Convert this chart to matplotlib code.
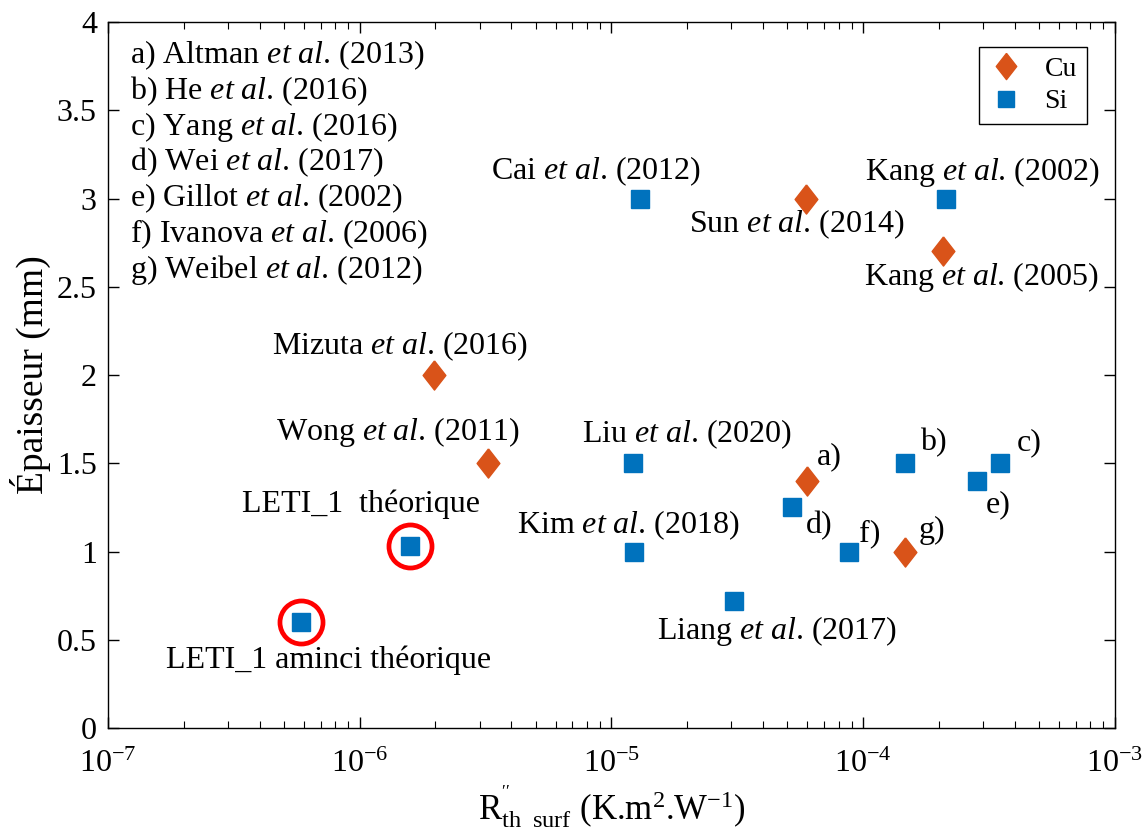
import matplotlib
matplotlib.use("Agg")
import matplotlib.pyplot as plt
from matplotlib.ticker import LogLocator, NullFormatter

# Cu samples (diamonds)
cu_labels = [r"Mizuta $\mathit{et\ al}$. (2016)", r"Wong $\mathit{et\ al}$. (2011)",
             r"Sun $\mathit{et\ al}$. (2014)", r"Kang $\mathit{et\ al}$. (2005)", "a)", "g)"]
cu_r = [1.97e-6, 3.23e-6, 5.93e-5, 2.07e-4, 6.0e-5, 1.47e-4]
cu_e = [2.0, 1.5, 3.0, 2.7, 1.4, 1.0]

# Si samples (squares)
si_labels = [r"Cai $\mathit{et\ al}$. (2012)", r"Kang $\mathit{et\ al}$. (2002)",
             r"Liu $\mathit{et\ al}$. (2020)", r"Kim $\mathit{et\ al}$. (2018)",
             r"Liang $\mathit{et\ al}$. (2017)", "d)", "f)", "b)", "e)", "c)",
             "LETI_1  théorique", "LETI_1 aminci théorique"]
si_r = [1.30e-5, 2.13e-4, 1.22e-5, 1.23e-5, 3.07e-5, 5.21e-5, 8.8e-5,
        1.47e-4, 2.83e-4, 3.49e-4, 1.58e-6, 5.84e-7]
si_e = [3.0, 3.0, 1.5, 1.0, 0.72, 1.25, 1.0, 1.5, 1.4, 1.5, 1.03, 0.6]
leti_idx = [10, 11]

refs = [r"a) Altman $\mathit{et\ al}$. (2013)", r"b) He $\mathit{et\ al}$. (2016)",
        r"c) Yang $\mathit{et\ al}$. (2016)", r"d) Wei $\mathit{et\ al}$. (2017)",
        r"e) Gillot $\mathit{et\ al}$. (2002)", r"f) Ivanova $\mathit{et\ al}$. (2006)",
        r"g) Weibel $\mathit{et\ al}$. (2012)"]

# label offsets in pixels (dx, dy) from each point
cu_off = [(-34, 29), (-90, 31), (-9, -26), (39, -26), (22, 24), (27, 21)]
si_off = [(-44, 27), (37, 27), (54, 29), (-6, 26), (43, -30), (27, -18),
          (21, 18), (28, 21), (21, -24), (30, 21), (-49, 42), (28, -38)]

plt.rcParams["font.family"] = "Liberation Serif"
plt.rcParams["mathtext.fontset"] = "custom"
plt.rcParams["mathtext.rm"] = "Liberation Serif"
plt.rcParams["mathtext.it"] = "Liberation Serif:italic"
plt.rcParams["mathtext.bf"] = "Liberation Serif:bold"

fig = plt.figure(figsize=(11.42, 8.4), dpi=100)
ax = fig.add_axes([0.0946, 0.1333, 0.8815, 0.8405])

cu_col = "#D95319"
si_col = "#0072BD"
diamond = [(0, 1), (0.78, 0), (0, -1), (-0.78, 0), (0, 1)]

ax.plot([si_r[i] for i in leti_idx], [si_e[i] for i in leti_idx], "o", ms=31,
        mfc="none", mec="#FF0000", mew=3.4, zorder=2)
hcu, = ax.plot(cu_r, cu_e, ls="none", marker=diamond, ms=21, color=cu_col,
               mec=cu_col, label="Cu", zorder=3)
hsi, = ax.plot(si_r, si_e, ls="none", marker="s", ms=12.5, color=si_col,
               mec=si_col, label="Si", zorder=3)

for lab, x, y, off in zip(cu_labels, cu_r, cu_e, cu_off):
    ax.annotate(lab, (x, y), xytext=off, textcoords="offset pixels",
                ha="center", va="center", fontsize=23)
for lab, x, y, off in zip(si_labels, si_r, si_e, si_off):
    ax.annotate(lab, (x, y), xytext=off, textcoords="offset pixels",
                ha="center", va="center", fontsize=23)

for k, r in enumerate(refs):
    ax.text(0.022, 0.953 - k * 0.0507, r, transform=ax.transAxes,
            ha="left", va="center", fontsize=23)

ax.set_xscale("log")
ax.set_xlim(1e-7, 1e-3)
ax.set_ylim(0, 4)
ax.set_yticks([0, 0.5, 1, 1.5, 2, 2.5, 3, 3.5, 4])
ax.set_yticklabels(["0", "0.5", "1", "1.5", "2", "2.5", "3", "3.5", "4"])
ax.xaxis.set_major_locator(LogLocator(base=10, numticks=10))
ax.xaxis.set_minor_locator(LogLocator(base=10, subs=range(2, 10), numticks=20))
ax.xaxis.set_minor_formatter(NullFormatter())
ax.tick_params(which="both", direction="in", top=True, right=True, labelsize=23)
ax.tick_params(which="major", length=8, width=1)
ax.tick_params(which="minor", length=5, width=0.8)
ax.tick_params(axis="x", pad=16)
ax.tick_params(axis="y", pad=8)
for s in ax.spines.values():
    s.set_linewidth(1)

ax.set_xlabel(r"R$_{\mathrm{th\ \ surf}}^{''}$ (K.m$^{2}$.W$^{-1}$)", fontsize=25, labelpad=3)
ax.set_ylabel("Épaisseur (mm)", fontsize=27, labelpad=4)

leg = ax.legend(handles=[hcu, hsi], loc="upper right", bbox_to_anchor=(0.972, 0.965),
                borderaxespad=0, fancybox=False, framealpha=1, edgecolor="black",
                fontsize=20, handlelength=1.2, handletextpad=0.8, borderpad=0.35,
                labelspacing=0.25, markerscale=0.9)
leg.get_frame().set_linewidth(1)

fig.savefig("out.png", dpi=100)
